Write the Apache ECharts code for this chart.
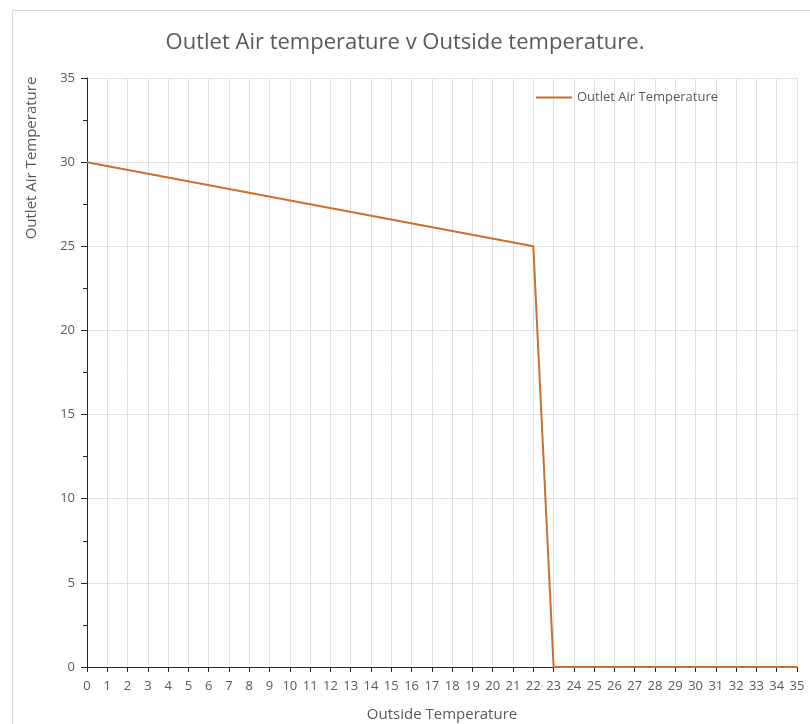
<!DOCTYPE html>
<html>
<head>
<meta charset="utf-8">
<style>
  html, body { margin: 0; padding: 0; background: #fff; }
  #main { width: 810px; height: 724px; }
</style>
<script src="https://cdn.jsdelivr.net/npm/echarts@6/dist/echarts.min.js"></script>
</head>
<body>
<div id="main"></div>
<script>
// outside temperature (x) and outlet air temperature (y)
var outsideTemp = [0, 22, 23, 35];
var outletTemp = [30, 25, 0, 0];
var seriesName = 'Outlet Air Temperature';

var points = outsideTemp.map(function (x, i) { return [x, outletTemp[i]]; });

var chart = echarts.init(document.getElementById('main'));
var font = 'Open Sans';
var textGrey = '#595959';

var option = {
  backgroundColor: '#fff',
  animation: false,
  title: {
    text: 'Outlet Air temperature v Outside temperature.',
    left: 'center',
    top: 27,
    textStyle: { fontFamily: font, fontSize: 22, fontWeight: 'normal', color: textGrey }
  },
  legend: {
    left: 531,
    top: 86,
    itemWidth: 36,
    itemHeight: 14,
    itemGap: 4,
    icon: 'path://M0,0 L36,0 L36,2 L0,2 Z',
    textStyle: { fontFamily: font, fontSize: 13, color: textGrey },
    data: [seriesName]
  },
  graphic: [
    {
      type: 'rect',
      shape: { x: 12.5, y: 10.5, width: 820, height: 740 },
      style: { fill: 'none', stroke: '#d9d9d9', lineWidth: 1 },
      silent: true
    },
    {
      type: 'text',
      x: 32,
      y: 158,
      rotation: Math.PI / 2,
      style: {
        text: 'Outlet Air Temperature',
        font: '15px "Open Sans"',
        fill: textGrey,
        textAlign: 'center',
        textVerticalAlign: 'middle'
      }
    }
  ],
  grid: { left: 87, right: 13, top: 78, bottom: 57, outerBoundsMode: 'none', containLabel: false },
  xAxis: {
    type: 'value',
    min: 0,
    max: 35,
    interval: 1,
    name: 'Outside Temperature',
    nameLocation: 'middle',
    nameGap: 40,
    nameTextStyle: { fontFamily: font, fontSize: 15, color: textGrey },
    axisLine: { lineStyle: { color: '#262626', width: 1 } },
    axisTick: { show: true, length: 5, lineStyle: { color: '#262626' } },
    axisLabel: { fontFamily: font, fontSize: 13, color: textGrey, margin: 13 },
    splitLine: { show: true, lineStyle: { color: '#e0e0e0', width: 1 } }
  },
  yAxis: {
    type: 'value',
    min: 0,
    max: 35,
    interval: 5,
    axisLine: { show: true, lineStyle: { color: '#262626', width: 1 } },
    axisTick: { show: true, length: 6, lineStyle: { color: '#262626' } },
    minorTick: { show: true, splitNumber: 2, length: 4, lineStyle: { color: '#262626' } },
    axisLabel: { fontFamily: font, fontSize: 13, color: textGrey, margin: 12 },
    splitLine: { show: true, lineStyle: { color: '#e0e0e0', width: 1 } }
  },
  series: [{
    name: seriesName,
    type: 'line',
    data: points,
    symbol: 'none',
    lineStyle: { color: '#cc6f2d', width: 2 },
    itemStyle: { color: '#cc6f2d' }
  }]
};

chart.setOption(option);
</script>
</body>
</html>
